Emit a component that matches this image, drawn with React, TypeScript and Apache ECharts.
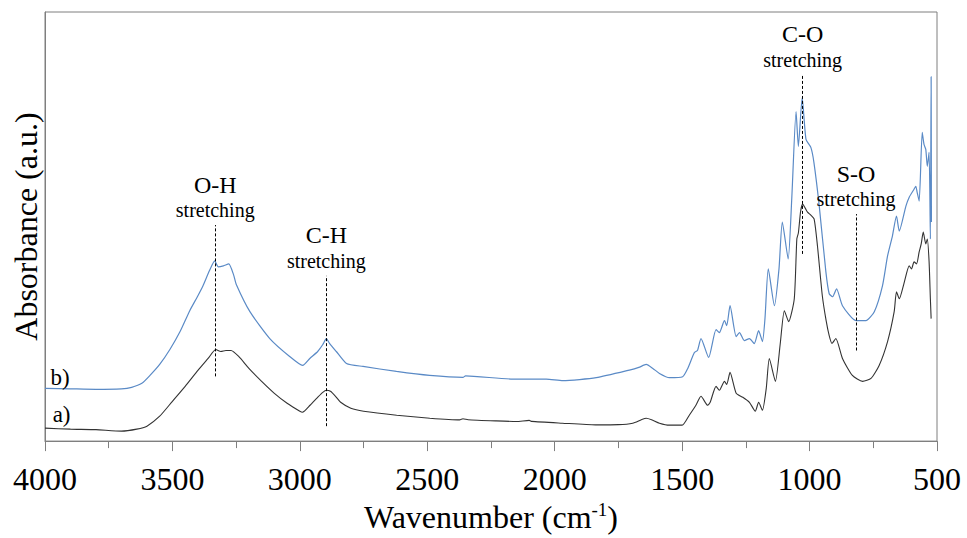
import React, { useEffect, useRef } from "react";
import * as echarts from "echarts";

// Spectrum a) (black)
const waveA = [4000, 3900, 3800, 3700, 3640, 3600, 3550, 3500, 3450, 3400, 3360, 3330, 3310, 3290, 3270, 3240, 3200, 3150, 3100, 3050, 3000, 2990, 2960, 2930, 2910, 2896, 2880, 2860, 2840, 2800, 2750, 2620, 2490, 2373, 2360, 2340, 2230, 2150, 2100, 2090, 1970, 1840, 1750, 1694, 1660, 1641, 1620, 1589, 1550, 1500, 1472, 1446, 1426, 1400, 1390, 1367, 1354, 1334, 1325, 1312, 1288, 1262, 1236, 1213, 1200, 1185, 1170, 1158, 1134, 1115, 1099, 1082, 1060, 1050, 1044, 1035, 1027, 1015, 1008, 995, 982, 969, 950, 935, 923, 912, 897, 871, 832, 792, 759, 727, 694, 668, 659, 648, 630, 609, 600, 590, 580, 570, 562, 554, 544, 538, 531, 526, 523];
const absA = [13, 12, 11.5, 10, 12, 15, 25, 40, 55, 71, 83, 92, 90, 91, 91, 85, 73, 60, 48, 38, 30, 29, 36, 44, 49, 51, 50, 45, 39, 33, 30, 26, 23, 21.3, 22.5, 21.5, 20.3, 19.7, 20.8, 19.8, 18, 16.3, 16.5, 18, 21.5, 23, 21.5, 18, 16, 16, 26, 36, 45, 36, 39, 55, 51, 60, 57, 69, 48, 44, 39, 30, 39, 31, 53, 83, 60, 98, 131, 120, 143, 203, 209, 231, 238, 233, 230, 227, 223, 196, 146, 121, 106, 98, 103, 83, 66, 60, 63, 76, 100, 130, 150, 143, 158, 176, 173, 180, 178, 190, 198, 210, 198, 203, 180, 143, 123];

// Spectrum b) (blue)
const waveB = [4000, 3900, 3800, 3700, 3660, 3620, 3588, 3550, 3510, 3470, 3432, 3400, 3380, 3355, 3334, 3320, 3300, 3279, 3260, 3249, 3196, 3118, 3040, 2989, 2961, 2930, 2910, 2896, 2883, 2857, 2817, 2752, 2621, 2491, 2360, 2350, 2164, 2033, 1968, 1837, 1707, 1670, 1641, 1615, 1589, 1550, 1498, 1478, 1452, 1440, 1426, 1396, 1367, 1354, 1334, 1325, 1312, 1288, 1275, 1256, 1236, 1217, 1200, 1185, 1175, 1162, 1138, 1120, 1107, 1084, 1070, 1053, 1044, 1029, 1014, 995, 983, 962, 936, 923, 910, 894, 871, 818, 779, 746, 714, 694, 675, 659, 648, 622, 609, 590, 583, 578, 570, 558, 551, 544, 538, 531, 526, 523, 522];
const absB = [53, 52.5, 52, 52.5, 54, 58, 66, 77, 92, 110, 131, 146, 156, 171, 181, 175, 176, 178, 167, 157, 130, 103, 85, 76, 83, 90, 97, 103, 98, 90, 78, 75, 70, 66, 64, 65.5, 62.3, 62.3, 60.7, 63.7, 71.3, 74, 77, 73, 68, 63.7, 64.7, 73, 89, 91, 103, 84, 112, 109, 121, 116, 136, 105, 109, 101, 103, 98, 111, 100, 123, 173, 136, 173, 220, 183, 243, 331, 296, 345, 303, 295, 280, 236, 170, 148, 145, 153, 136, 121, 121, 130, 156, 186, 206, 226, 211, 236, 245, 253, 256, 250, 241, 310, 298, 293, 276, 290, 203, 366, 220];

// Band annotations
const bandNames = ["O-H", "C-H", "C-O", "S-O"];
const bandWave = [3332, 2896, 1027, 818];
const bandLow = [65, 15, 188, 91];
const bandHigh = [217, 166, 368, 228];

// Curve tags
const tagNames = ["a)", "b)"];
const tagWave = [3935, 3941];
const tagAbs = [27, 64];

const xTicks = { min: 500, max: 4000, interval: 500 };
const FONT = "'Liberation Serif', 'Times New Roman', serif";

export default function App() {
  const ref = useRef<HTMLDivElement>(null);
  useEffect(() => {
    if (!ref.current) return;
    const chart = echarts.init(ref.current, undefined, { renderer: "svg" });
    const dataA = waveA.map((w, i) => [w, absA[i]]);
    const dataB = waveB.map((w, i) => [w, absB[i]]);
    const markLines = bandNames.map((n, i) => [
      { name: n, coord: [bandWave[i], bandLow[i]] },
      { name: n, coord: [bandWave[i], bandHigh[i]] },
    ]);
    chart.setOption({
      animation: false,
      backgroundColor: "#fff",
      textStyle: { fontFamily: FONT },
      grid: { left: 45, right: 30, top: 12, bottom: 95, show: true, borderColor: "#7f7f7f", borderWidth: 1 },
      xAxis: {
        type: "value",
        inverse: true,
        min: xTicks.min,
        max: xTicks.max,
        interval: xTicks.interval,
        name: "{a|Wavenumber (cm}{s|-1}{a|)}",
        nameLocation: "middle",
        nameGap: 51,
        nameTextStyle: {
          fontFamily: FONT,
          rich: {
            a: { fontSize: 32, fontFamily: FONT, color: "#000", lineHeight: 34 },
            s: { fontSize: 19, fontFamily: FONT, color: "#000", verticalAlign: "top", lineHeight: 34 },
          },
        },
        axisLine: { show: true, lineStyle: { color: "#7f7f7f", width: 1 } },
        axisTick: { show: true, inside: false, length: 10, lineStyle: { color: "#7f7f7f" } },
        minorTick: { show: true, splitNumber: 2, length: 7, lineStyle: { color: "#7f7f7f" } },
        splitLine: { show: false },
        axisLabel: { fontSize: 32, fontFamily: FONT, color: "#000", margin: 22, formatter: (v: number) => String(v) },
      },
      yAxis: {
        type: "value",
        min: 0,
        max: 431,
        name: "Absorbance (a.u.)",
        nameLocation: "middle",
        nameGap: 3,
        nameTextStyle: { fontSize: 32, fontFamily: FONT, color: "#000" },
        axisLine: { show: true, lineStyle: { color: "#7f7f7f", width: 1 } },
        axisTick: { show: false },
        axisLabel: { show: false },
        splitLine: { show: false },
      },
      series: [
        {
          name: "a)",
          type: "line",
          data: dataA,
          showSymbol: false,
          smooth: 0.2,
          lineStyle: { color: "#333333", width: 1.1 },
          z: 3,
          markLine: {
            silent: true,
            symbol: "none",
            animation: false,
            lineStyle: { type: [3, 2], color: "#000", width: 1 },
            label: {
              show: true,
              position: "end",
              distance: 3,
              fontFamily: FONT,
              formatter: (p: any) => `{a|${p.name}}\n{b|stretching}`,
              rich: {
                a: { fontSize: 24, fontFamily: FONT, color: "#000", lineHeight: 27, align: "center" },
                b: { fontSize: 20, fontFamily: FONT, color: "#000", lineHeight: 24, align: "center" },
              },
            },
            data: markLines,
          },
          markPoint: {
            silent: true,
            symbol: "circle",
            symbolSize: 1,
            itemStyle: { color: "rgba(0,0,0,0)" },
            label: { show: true, position: "inside", formatter: "{b}", fontSize: 23, fontFamily: FONT, color: "#000" },
            data: tagNames.map((n, i) => ({ name: n, coord: [tagWave[i], tagAbs[i]] })),
          },
        },
        {
          name: "b)",
          type: "line",
          data: dataB,
          showSymbol: false,
          smooth: 0.2,
          lineStyle: { color: "#5a8ac6", width: 1.2 },
          z: 2,
        },
      ],
    });
    return () => chart.dispose();
  }, []);
  return <div ref={ref} style={{ position: "fixed", left: 0, top: 0, width: 967, height: 538 }} />;
}
